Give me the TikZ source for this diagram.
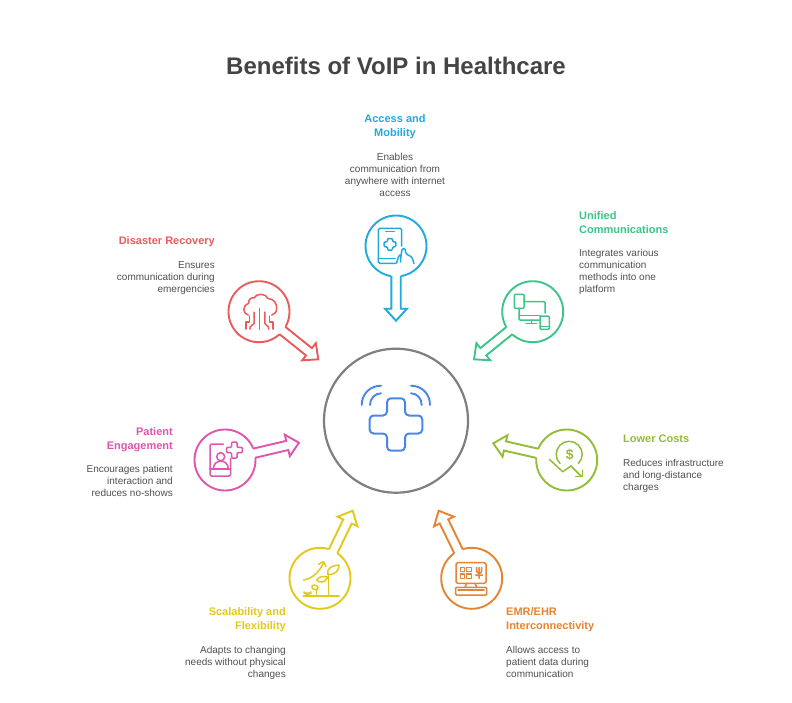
\documentclass[tikz,border=0pt]{standalone}
\usepackage{fontspec}
\setmainfont{Liberation Sans}
\usetikzlibrary{calc}
\definecolor{hubgray}{HTML}{7F7F7F}
\definecolor{hubblue}{HTML}{4A86E8}
\definecolor{cblue}{HTML}{1FAAE0}
\definecolor{cgreen}{HTML}{3CC586}
\definecolor{clime}{HTML}{93BC38}
\definecolor{corange}{HTML}{E58431}
\definecolor{cyellow}{HTML}{E3C91A}
\definecolor{cpink}{HTML}{E055AE}
\definecolor{cred}{HTML}{E85C5C}
\definecolor{txtgray}{HTML}{505050}
\definecolor{titlegray}{HTML}{444444}
\tikzset{
  x=1pt,y=-1pt,
  benefit/.style={circle,draw=#1,line width=1.9pt,minimum size=61pt,inner sep=0pt,fill=white},
  icon/.style={draw=#1,line width=1.5pt,line join=round,line cap=round},
  headline/.style={text=#1,font=\fontsize{11}{14}\selectfont\bfseries,inner sep=0pt},
  bodytext/.style={text=txtgray,font=\fontsize{10}{12}\selectfont,inner sep=0pt},
}
% \blockarrow{circle}{tip}{colour}: hollow arrow growing out of a circle node
\newcommand{\blockarrow}[3]{%
  \fill[white] ($(#1)!26pt!(#2)!4.7pt!90:(#2)$) -- ($(#1)!26pt!(#2)!4.7pt!-90:(#2)$) --
     ($(#1)!34pt!(#2)!4.7pt!-90:(#2)$) -- ($(#1)!34pt!(#2)!4.7pt!90:(#2)$) -- cycle;
  \draw[#3,line width=1.9pt,line join=miter]
     ($(#1)!29.9pt!(#2)!4.7pt!90:(#2)$) --
     ($(#2)!12pt!(#1)!4.7pt!-90:(#1)$) --
     ($(#2)!12pt!(#1)!11pt!-90:(#1)$) --
     (#2) --
     ($(#2)!12pt!(#1)!11pt!90:(#1)$) --
     ($(#2)!12pt!(#1)!4.7pt!90:(#1)$) --
     ($(#1)!29.9pt!(#2)!4.7pt!-90:(#2)$);
}
\begin{document}
\begin{tikzpicture}
\useasboundingbox (0,0) rectangle (792,702);
\fill[white] (0,0) rectangle (792,702);

\node[text=titlegray,font=\fontsize{24}{28}\selectfont\bfseries,inner sep=0pt] (title) at (396,66) {Benefits of VoIP in Healthcare};

% hub
\node[circle,draw=hubgray,line width=2.2pt,minimum size=144pt,inner sep=0pt] (hub) at (396,420.7) {};
\draw[hubblue,line width=2pt,rounded corners=4pt,line join=round]
  (387,398.3) -- (405,398.3) -- (405,415.5) -- (422.3,415.5) -- (422.3,433.5) -- (405,433.5) -- (405,450.7) -- (387,450.7) -- (387,433.5) -- (369.6,433.5) -- (369.6,415.5) -- (387,415.5) -- cycle;
\draw[hubblue,line width=1.9pt,line cap=round]
  (361.7,405) .. controls (361.7,394) and (370,385.7) .. (381,385.7)
  (370,405) .. controls (370,398.5) and (375,393.3) .. (381,393.3)
  (411,385.7) .. controls (422,385.7) and (430,394) .. (430,405)
  (411,393.3) .. controls (417,393.3) and (421.7,398.5) .. (421.7,405);

% benefit circles
\node[benefit=cblue] (access) at (396,246) {};
\node[benefit=cgreen] (unified) at (532.7,311.7) {};
\node[benefit=clime] (costs) at (566.7,460) {};
\node[benefit=corange] (emr) at (471.7,578.3) {};
\node[benefit=cyellow] (scale) at (320,578.3) {};
\node[benefit=cpink] (patient) at (225,460) {};
\node[benefit=cred] (disaster) at (259,311.7) {};

% free arrow ends
\coordinate (tipaccess) at (396,320.7);
\coordinate (tipunified) at (474,359.3);
\coordinate (tipcosts) at (493.3,443.3);
\coordinate (tipemr) at (438.7,510.7);
\coordinate (tipscale) at (352.7,510.7);
\coordinate (tippatient) at (299,442.7);
\coordinate (tipdisaster) at (318.3,359.3);

\blockarrow{access}{tipaccess}{cblue}
\blockarrow{unified}{tipunified}{cgreen}
\blockarrow{costs}{tipcosts}{clime}
\blockarrow{emr}{tipemr}{corange}
\blockarrow{scale}{tipscale}{cyellow}
\blockarrow{patient}{tippatient}{cpink}
\blockarrow{disaster}{tipdisaster}{cred}

% phone icon
\draw[icon=cblue,rounded corners=1.5pt] (401.7,246) -- (401.7,228.3) -- (378.3,228.3) -- (378.3,263.3) -- (396,263.3);
\draw[icon=cblue] (378.3,258.3) -- (395,258.3) (385.7,231.7) -- (394.3,231.7);
\draw[icon=cblue,rounded corners=1pt] (387.5,238.5) -- (392.5,238.5) -- (392.5,241.8) -- (395.8,241.8) -- (395.8,246.8) -- (392.5,246.8) -- (392.5,250.1) -- (387.5,250.1) -- (387.5,246.8) -- (384.2,246.8) -- (384.2,241.8) -- (387.5,241.8) -- cycle;
\draw[icon=cblue,rounded corners=1.5pt] (396.7,262.7) -- (399,255) -- (401,255) -- (400.5,262) (400.5,260) -- (402,249) -- (405,248) -- (406,254) -- (412,257) -- (414,263.5);

% devices icon
\draw[icon=cgreen,rounded corners=1pt] (514.3,294.3) rectangle (524,308.3);
\draw[icon=cgreen,rounded corners=1pt] (524,301.7) -- (545,301.7) -- (545,313);
\draw[icon=cgreen,rounded corners=1pt] (519,308.3) -- (519,320) -- (539,320);
\draw[icon=cgreen] (519,315.7) -- (540,315.7) (531.7,320) -- (531.7,323.3) (526,323.3) -- (536.7,323.3);
\draw[icon=cgreen,rounded corners=1pt] (540,316) rectangle (549.3,329.3);
\draw[icon=cgreen] (540,326.5) -- (549.3,326.5);

% coin icon
\draw[icon=clime] (560,463.5) arc[start angle=135,end angle=405,x radius=13pt,y radius=-13pt];
\node[text=clime,font=\fontsize{14}{14}\selectfont\bfseries,inner sep=0pt] (dollar) at (569.8,454.5) {\$};
\draw[icon=clime] (549.3,459.3) -- (562.7,471.7) -- (571,466) -- (581.7,476.7);
\draw[icon=clime] (575.7,476.7) -- (582.7,476.7) -- (582.7,470);

% monitor icon
\draw[icon=corange,rounded corners=1.5pt] (456,562.7) rectangle (486,583.3);
\draw[icon=corange] (460.3,567.7) rectangle (464.3,571.7) (466.7,567.7) rectangle (471.7,571.7)
  (460.3,574) rectangle (464.3,578.3) (466.7,574) rectangle (471.7,578.3);
\draw[icon=corange] (476.7,567.5) -- (476.7,571) .. controls (476.7,574) and (481.7,574) .. (481.7,571) -- (481.7,567.5)
  (479.2,567.5) -- (479.2,578.3) (475.7,575) -- (482.7,575);
\draw[icon=corange] (466.7,583.3) -- (465,587.3) (475,583.3) -- (476.7,587.3);
\draw[icon=corange,rounded corners=1pt] (455.7,587.3) rectangle (486.7,595);
\draw[icon=corange] (458,590) -- (484,590);

% plant icon
\draw[icon=cyellow] (303.3,596) -- (339,596) (328.3,596) -- (328.3,575);
\draw[icon=cyellow] (327.7,574.5) .. controls (326.5,568) and (332,565.5) .. (339,565) .. controls (339,571) and (335,575) .. (327.7,574.5);
\draw[icon=cyellow] (316.7,580) .. controls (319,576) and (323,576) .. (327.7,577) .. controls (326,582) and (320,584) .. (316.7,580);
\draw[icon=cyellow] (303.3,580) .. controls (312,579) and (319,572) .. (323.3,563.5);
\draw[icon=cyellow] (318.5,564.5) -- (323.5,561.5) -- (326,566.5);
\draw[icon=cyellow] (316.7,596) -- (316.7,589);
\draw[icon=cyellow] (316.7,590) .. controls (312,589.5) and (311,587) .. (312,585.5) .. controls (315,584.5) and (318.5,585.5) .. (318,588.5) -- (316.7,590);
\draw[icon=cyellow] (304,592) -- (308,596) (311,592) -- (307,596) (304,593) -- (311,593);

% patient icon
\draw[icon=cpink,rounded corners=1.5pt] (223.3,444) -- (210,444) -- (210,476) -- (230.7,476) -- (230.7,458.3);
\draw[icon=cpink] (210,469) -- (230.7,469);
\draw[icon=cpink] (220.7,456.7) circle[radius=4pt];
\draw[icon=cpink] (213.3,469) .. controls (213.3,458.5) and (228.3,458.5) .. (228.3,469);
\draw[icon=cpink,rounded corners=1pt] (231.6,442) -- (237,442) -- (237,447.3) -- (242.3,447.3) -- (242.3,452.7) -- (237,452.7) -- (237,458) -- (231.6,458) -- (231.6,452.7) -- (226.7,452.7) -- (226.7,447.3) -- (231.6,447.3) -- cycle;

% cloud icon
\draw[icon=cred] (248.3,315) .. controls (243,314) and (241.5,306) .. (248.5,303.5) .. controls (248,298.5) and (253,297) .. (254,298) .. controls (256,293) and (266,293) .. (268,298.5) .. controls (274,299) and (276.7,303) .. (276.7,308.3) .. controls (276.7,312) and (274.5,314.5) .. (271.7,315);
\draw[icon=cred] (259.3,308.3) -- (259.3,329.3);
\draw[icon=cred] (254,312) -- (254,323.5) -- (250,327) -- (250,329);
\draw[icon=cred] (264.8,312) -- (264.8,323.5) -- (268.5,327) -- (268.5,329);
\draw[icon=cred] (249.5,316) -- (249.5,322) -- (246,322) -- (246,329);
\draw[icon=cred] (269.5,316) -- (269.5,322) -- (273,322) -- (273,329);

% labels
\node[headline=cblue,align=center,anchor=north] (accessh) at (395,114.8) {Access and\\Mobility};
\node[bodytext,align=center,anchor=north] (accessb) at (395,153.5) {Enables\\communication from\\anywhere with internet\\access};

\node[headline=cgreen,align=left,anchor=north west] (unifiedh) at (579,211.3) {Unified\\Communications};
\node[bodytext,align=left,anchor=north west] (unifiedb) at (579,249.5) {Integrates various\\communication\\methods into one\\platform};

\node[headline=clime,align=left,anchor=north west] (costsh) at (623,434.3) {Lower Costs};
\node[bodytext,align=left,anchor=north west] (costsb) at (623,459) {Reduces infrastructure\\and long-distance\\charges};

\node[headline=corange,align=left,anchor=north west] (emrh) at (506,607.3) {EMR/EHR\\Interconnectivity};
\node[bodytext,align=left,anchor=north west] (emrb) at (506,646) {Allows access to\\patient data during\\communication};

\node[headline=cyellow,align=right,anchor=north east] (scaleh) at (286,607.3) {Scalability and\\Flexibility};
\node[bodytext,align=right,anchor=north east] (scaleb) at (286,646) {Adapts to changing\\needs without physical\\changes};

\node[headline=cpink,align=right,anchor=north east] (patienth) at (173,427.3) {Patient\\Engagement};
\node[bodytext,align=right,anchor=north east] (patientb) at (173,465.5) {Encourages patient\\interaction and\\reduces no-shows};

\node[headline=cred,align=right,anchor=north east] (disasterh) at (215,236.3) {Disaster Recovery};
\node[bodytext,align=right,anchor=north east] (disasterb) at (215,261.5) {Ensures\\communication during\\emergencies};
\end{tikzpicture}
\end{document}
